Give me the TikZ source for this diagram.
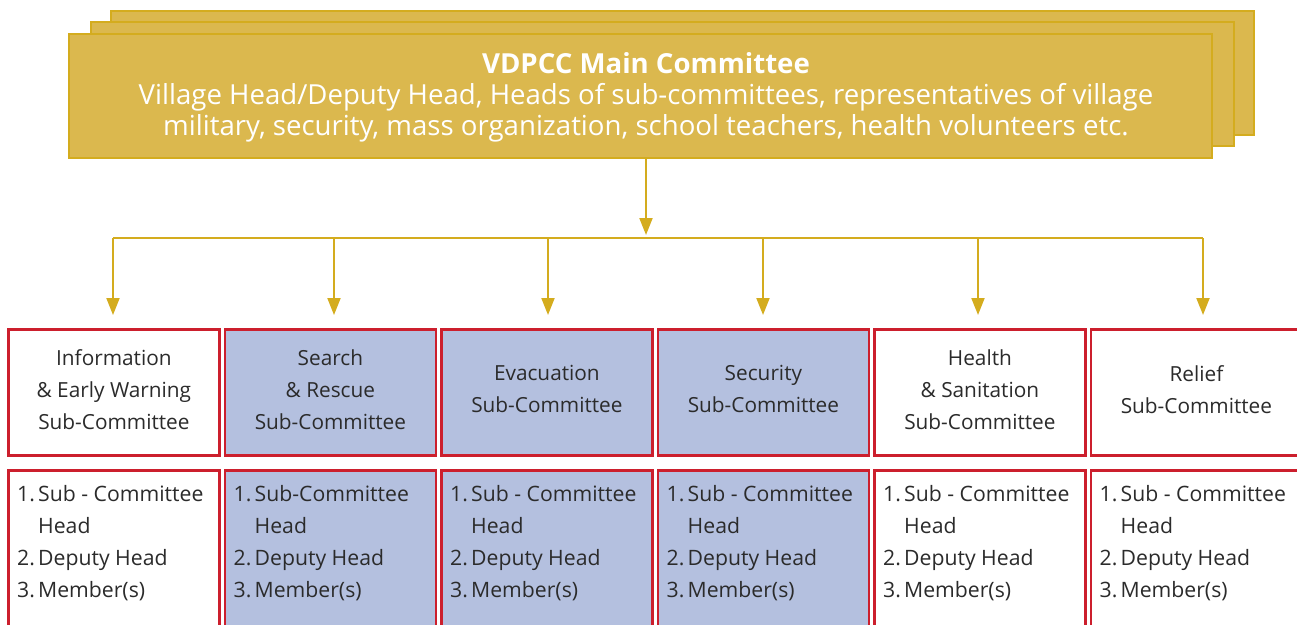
\documentclass[tikz,border=0pt]{standalone}
\usepackage{fontspec}
\setmainfont{Open Sans}
\usetikzlibrary{arrows.meta}
\definecolor{gold}{HTML}{DBB84E}
\definecolor{goldline}{HTML}{D4AC1E}
\definecolor{boxred}{HTML}{CC1F2D}
\definecolor{boxblue}{HTML}{B4C0DF}
\definecolor{txt}{HTML}{2B2B2B}
\begin{document}
\begin{tikzpicture}[x=1pt,y=-1pt,
  goldbox/.style={draw=goldline,line width=2pt,fill=gold,minimum width=1143pt,minimum height=124pt,anchor=north west,inner sep=0pt},
  subbox/.style={draw=boxred,line width=2.8pt,minimum width=211pt,minimum height=126pt,anchor=north west,inner sep=0pt},
  subtext/.style={align=center,text=txt,inner sep=0pt,font=\fontsize{20.8}{32}\selectfont},
  listbox/.style={draw=boxred,line width=2.8pt,minimum width=211pt,minimum height=170pt,anchor=north west,inner sep=0pt},
  listtext/.style={anchor=north west,inner sep=0pt,text=txt,font=\fontsize{21.2}{32}\selectfont},
  bluefill/.style={fill=boxblue},
  whitefill/.style={fill=white},
  arr/.style={draw=goldline,line width=2pt,-{Triangle[width=13pt,length=17pt]}},
  bus/.style={draw=goldline,line width=2pt}]
\useasboundingbox (0,0) rectangle (1297,624);
\clip (0,0) rectangle (1297,624);
% stacked main committee boxes
\node[goldbox] (mainc) at (110,10) {};
\node[goldbox] (mainb) at (90,21) {};
\node[goldbox] (main) at (68,33) {};
\node[text=white,align=center,font=\fontsize{27.6}{31}\selectfont,anchor=center,inner sep=0pt] (maintext) at (646,97)
  {\textbf{VDPCC Main Committee}\\Village Head/Deputy Head, Heads of sub-committees, representatives of village\\military, security, mass organization, school teachers, health volunteers etc.};
% sub-committee boxes
\newcommand\listtext{\begin{tabular}{@{}p{21pt}@{}l@{}}1.&Sub - Committee\\&Head\\2.&Deputy Head\\3.&Member(s)\end{tabular}}
\newcommand\listtextb{\begin{tabular}{@{}p{21pt}@{}l@{}}1.&Sub-Committee\\&Head\\2.&Deputy Head\\3.&Member(s)\end{tabular}}
\node[subbox,whitefill] (s1) at (7,328) {};
\node[subbox,bluefill] (s2) at (223.5,328) {};
\node[subbox,bluefill] (s3) at (440,328) {};
\node[subbox,bluefill] (s4) at (656.5,328) {};
\node[subbox,whitefill] (s5) at (873,328) {};
\node[subbox,whitefill] (s6) at (1089.5,328) {};
\node[subtext] (t1) at ([yshift=3pt]s1.center) {Information\\\& Early Warning\\Sub-Committee};
\node[subtext] (t2) at ([yshift=3pt]s2.center) {Search\\\& Rescue\\Sub-Committee};
\node[subtext] (t3) at ([yshift=3pt]s3.center) {Evacuation\\Sub-Committee};
\node[subtext] (t4) at ([yshift=3pt]s4.center) {Security\\Sub-Committee};
\node[subtext] (t5) at ([yshift=3pt]s5.center) {Health\\\& Sanitation\\Sub-Committee};
\node[subtext] (t6) at ([yshift=3pt]s6.center) {Relief\\Sub-Committee};
\node[listbox,whitefill] (m1) at (7,469) {};
\node[listbox,bluefill] (m2) at (223.5,469) {};
\node[listbox,bluefill] (m3) at (440,469) {};
\node[listbox,bluefill] (m4) at (656.5,469) {};
\node[listbox,whitefill] (m5) at (873,469) {};
\node[listbox,whitefill] (m6) at (1089.5,469) {};
\foreach \i in {1,3,4,5,6}{
  \node[listtext] (l\i) at ([xshift=10pt,yshift=-10pt]m\i.north west) {\listtext};
}
\node[listtext] (l2) at ([xshift=10pt,yshift=-10pt]m2.north west) {\listtextb};
% connectors
\coordinate (busc) at (646,238);
\coordinate (busl) at (113,238);
\coordinate (busr) at (1203,238);
\draw[arr] (main.south -| busc) -- ([yshift=3pt]busc);
\draw[bus] (busl) -- (busr);
\coordinate (d1) at (113,238);
\coordinate (d2) at (334,238);
\coordinate (d3) at (548,238);
\coordinate (d4) at (763,238);
\coordinate (d5) at (978,238);
\coordinate (d6) at (1203,238);
\foreach \i in {1,...,6}{
  \draw[arr] (d\i) -- ([yshift=13pt]s\i.north -| d\i);
}
\end{tikzpicture}
\end{document}
